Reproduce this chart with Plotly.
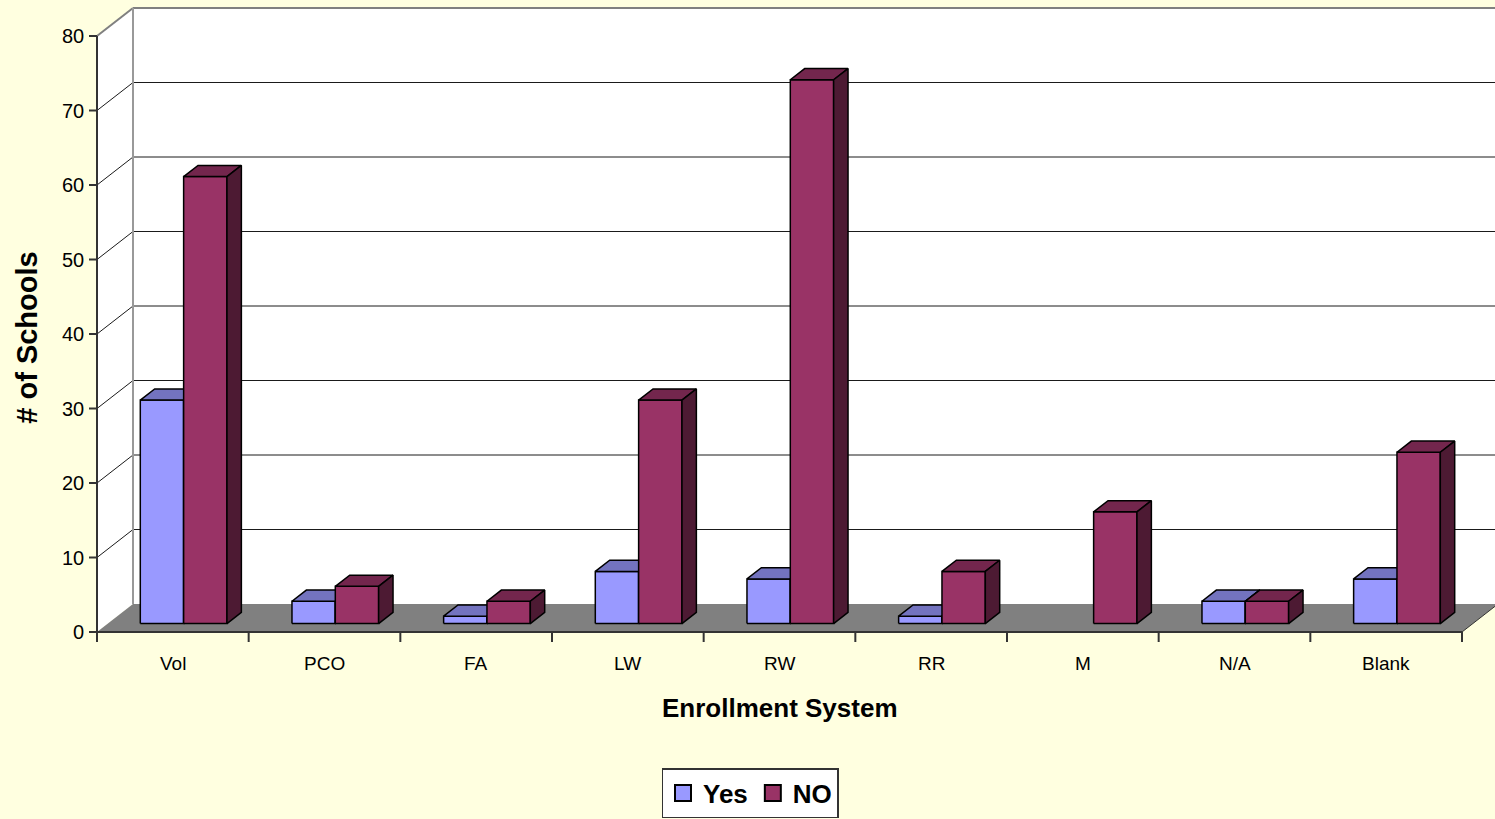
import plotly.graph_objects as go

# ---- data -----------------------------------------------------------
categories = ["Vol", "PCO", "FA", "LW", "RW", "RR", "M", "N/A", "Blank"]
yes_values = [30, 3, 1, 7, 6, 1, 0, 3, 6]
no_values = [60, 5, 3, 30, 73, 7, 15, 3, 23]
y_ticks = [0, 10, 20, 30, 40, 50, 60, 70, 80]
series_names = ["Yes", "NO"]

# ---- geometry of the 3-D box (pixel based) --------------------------
W, H = 1495, 819
X0, Y0 = 97, 632                  # front origin on the page
PX_PER_CAT = 1365 / 9             # width of one category slot
PX_PER_VAL = 596 / 80             # height of one value unit
DU = 36 / PX_PER_CAT              # depth offset, in category units
DV = 28 / PX_PER_VAL              # depth offset, in value units
Y_MAX = 80
N = len(categories)

BAR_W = 1 / 3.5                   # two bars + 150% gap per slot
BAR_D0, BAR_D1 = 0.3, 0.7         # bar depth inside the floor

BG = "#FFFFE0"
FONT = "Arial, Liberation Sans, sans-serif"
COLORS = {
    "Yes": dict(front="#9999FF", top="#7373BF", side="#4D4D80"),
    "NO": dict(front="#993366", top="#73264D", side="#4D1A33"),
}


def proj(u, v, d):
    """Project a point (category u, value v, depth d in [0, 1])."""
    return u + d * DU, v + d * DV


def poly(points, fill, line_color="black", line_width=1.5):
    xs, ys = zip(*[proj(*p) for p in points])
    xs = list(xs) + [xs[0]]
    ys = list(ys) + [ys[0]]
    return go.Scatter(
        x=xs, y=ys, mode="lines", fill="toself", fillcolor=fill,
        line=dict(color=line_color, width=line_width),
        hoverinfo="skip", showlegend=False,
    )


def segment(p, q, color, width=1):
    (x1, y1), (x2, y2) = proj(*p), proj(*q)
    return go.Scatter(
        x=[x1, x2], y=[y1, y2], mode="lines",
        line=dict(color=color, width=width),
        hoverinfo="skip", showlegend=False,
    )


fig = go.Figure()

# walls
fig.add_trace(poly([(0, 0, 1), (N, 0, 1), (N, Y_MAX, 1), (0, Y_MAX, 1)],
                   "white", line_color="rgba(0,0,0,0)", line_width=0))
fig.add_trace(poly([(0, 0, 0), (0, 0, 1), (0, Y_MAX, 1), (0, Y_MAX, 0)],
                   "white", line_color="rgba(0,0,0,0)", line_width=0))

# gridlines on back wall and side wall
for t in y_ticks[1:-1]:
    fig.add_trace(segment((0, t, 1), (N, t, 1), "#1a1a1a", 1))
    fig.add_trace(segment((0, t, 0), (0, t, 1), "#1a1a1a", 1))

# wall borders
fig.add_trace(segment((0, Y_MAX, 1), (N, Y_MAX, 1), "#808080", 2))
fig.add_trace(segment((0, Y_MAX, 0), (0, Y_MAX, 1), "#808080", 2))
fig.add_trace(segment((0, 0, 1), (0, Y_MAX, 1), "#999999", 2))

# floor
fig.add_trace(poly([(0, 0, 0), (N, 0, 0), (N, 0, 1), (0, 0, 1)],
                   "#808080", line_color="rgba(0,0,0,0)", line_width=0))
fig.add_trace(segment((N, 0, 0), (N, 0, 1), "#333333", 1))

# bars: front, top and right-hand side faces
for i in range(N):
    for k, (name, vals) in enumerate(zip(series_names, [yes_values, no_values])):
        h = vals[i]
        if h <= 0:
            continue
        u0 = i + 0.5 - BAR_W + k * BAR_W
        u1 = u0 + BAR_W
        c = COLORS[name]
        d0, d1 = BAR_D0, BAR_D1
        fig.add_trace(poly([(u0, 0, d0), (u1, 0, d0), (u1, h, d0), (u0, h, d0)], c["front"]))
        fig.add_trace(poly([(u0, h, d0), (u1, h, d0), (u1, h, d1), (u0, h, d1)], c["top"]))
        fig.add_trace(poly([(u1, 0, d0), (u1, 0, d1), (u1, h, d1), (u1, h, d0)], c["side"]))

# front axes with tick marks
TICK_U = 8 / PX_PER_CAT
TICK_V = 10 / PX_PER_VAL
fig.add_trace(segment((0, -TICK_V, 0), (0, Y_MAX, 0), "#333333", 2))
fig.add_trace(segment((0, 0, 0), (N, 0, 0), "#333333", 2))
for t in y_ticks:
    fig.add_trace(segment((-TICK_U, t, 0), (0, t, 0), "#333333", 2))
for i in range(1, N + 1):
    fig.add_trace(segment((i, -TICK_V, 0), (i, 0, 0), "#333333", 2))

# legend entries
for name in series_names:
    fig.add_trace(go.Scatter(
        x=[None], y=[None], mode="markers", name=name,
        marker=dict(symbol="square", size=18, color=COLORS[name]["front"],
                    line=dict(color="black", width=2)),
    ))

annotations = []
for t in y_ticks:
    annotations.append(dict(
        x=-11 / PX_PER_CAT, y=t, xref="x", yref="y", text=str(t),
        showarrow=False, xanchor="right", yanchor="middle",
        font=dict(family=FONT, size=20, color="black"),
    ))
for i, c in enumerate(categories):
    annotations.append(dict(
        x=i + 0.5, y=-31 / PX_PER_VAL, xref="x", yref="y", text=c,
        showarrow=False, xanchor="center", yanchor="middle",
        font=dict(family=FONT, size=19, color="black"),
    ))
annotations.append(dict(
    x=N / 2, y=-76 / PX_PER_VAL, xref="x", yref="y", text="Enrollment System",
    showarrow=False, xanchor="center", yanchor="middle",
    font=dict(family=FONT, size=26, color="black", weight="bold"),
))
annotations.append(dict(
    x=-70 / PX_PER_CAT, y=Y_MAX / 2 - 0.5, xref="x", yref="y", text="# of Schools",
    showarrow=False, xanchor="center", yanchor="middle", textangle=-90,
    font=dict(family=FONT, size=29, color="black", weight="bold"),
))

fig.update_layout(
    width=W, height=H, autosize=False,
    margin=dict(l=0, r=0, t=0, b=0),
    paper_bgcolor=BG, plot_bgcolor=BG,
    xaxis=dict(range=[-X0 / PX_PER_CAT, (W - X0) / PX_PER_CAT],
               visible=False, fixedrange=True),
    yaxis=dict(range=[-(H - Y0) / PX_PER_VAL, Y0 / PX_PER_VAL],
               visible=False, fixedrange=True),
    annotations=annotations,
    showlegend=True,
    legend=dict(
        orientation="h", x=(750 / W), xanchor="center",
        y=1 - 768 / H, yanchor="top",
        bgcolor="white", bordercolor="#333333", borderwidth=1.5,
        font=dict(family=FONT, size=26, color="black", weight="bold"),
        itemwidth=30, tracegroupgap=0,
    ),
)

fig.write_html("out.html")
